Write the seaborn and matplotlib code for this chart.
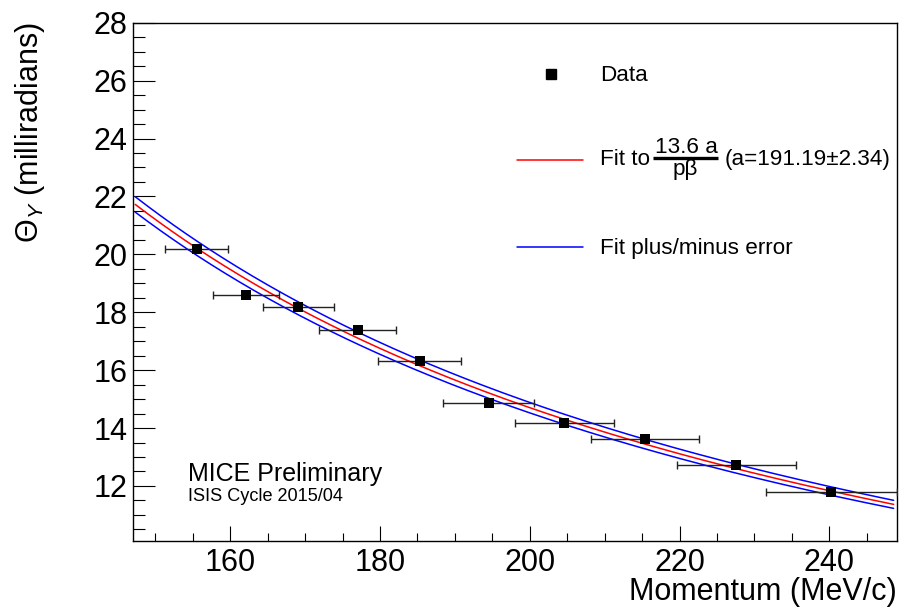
import numpy as np
import pandas as pd
import matplotlib
matplotlib.use("Agg")
import matplotlib.pyplot as plt
import seaborn as sns
from matplotlib.ticker import MultipleLocator

# Data
momentum = [155.5, 162.1, 169.1, 177.0, 185.3, 194.5, 204.6, 215.4, 227.6, 240.3]
momentum_err = [4.2, 4.4, 4.8, 5.15, 5.55, 6.05, 6.6, 7.2, 7.9, 8.7]
theta_y = [20.17, 18.59, 18.17, 17.37, 16.33, 14.88, 14.19, 13.62, 12.74, 11.79]

# Fit parameter (from the legend)
fit_a = 191.19
fit_a_err = 2.34
muon_mass = 105.66

# Style
sns.set_style("ticks")
plt.rcParams["font.family"] = ["Liberation Sans", "DejaVu Sans"]
plt.rcParams["mathtext.fontset"] = "custom"
plt.rcParams["mathtext.rm"] = "Liberation Sans"
plt.rcParams["mathtext.it"] = "Liberation Sans:italic"
plt.rcParams["mathtext.bf"] = "Liberation Sans:bold"
for key in ["text.color", "axes.labelcolor", "xtick.color", "ytick.color"]:
    plt.rcParams[key] = "black"


def highland(p, a):
    energy = np.sqrt(p ** 2 + muon_mass ** 2)
    p_beta = p ** 2 / energy
    return 13.6 * a / p_beta


p_grid = np.linspace(147.3, 248.6, 300)
fit_df = pd.DataFrame({
    "p": np.concatenate([p_grid] * 3),
    "theta": np.concatenate([
        highland(p_grid, fit_a),
        highland(p_grid, fit_a + fit_a_err),
        highland(p_grid, fit_a - fit_a_err),
    ]),
    "curve": ["fit"] * len(p_grid) + ["plus"] * len(p_grid) + ["minus"] * len(p_grid),
})

fig = plt.figure(figsize=(9.14, 6.09), dpi=100)
ax = fig.add_axes([0.1455, 0.1117, 0.8355, 0.851])

sns.lineplot(
    data=fit_df, x="p", y="theta", hue="curve",
    palette={"fit": "#ff0000", "plus": "#0000ff", "minus": "#0000ff"},
    linewidth=1.1, legend=False, ax=ax, sort=False
)

ax.errorbar(
    momentum, theta_y, xerr=momentum_err,
    fmt="none", ecolor="#222222", elinewidth=1.0, capsize=3, capthick=1.0, zorder=3
)
sns.scatterplot(
    x=momentum, y=theta_y, marker="s", s=52, color="black",
    edgecolor="black", linewidth=0, ax=ax, zorder=4
)

ax.set_xlim(147.0, 249.0)
ax.set_ylim(10.1, 28)

ax.xaxis.set_major_locator(MultipleLocator(20))
ax.xaxis.set_minor_locator(MultipleLocator(5))
ax.yaxis.set_major_locator(MultipleLocator(2))
ax.yaxis.set_minor_locator(MultipleLocator(0.5))

ax.tick_params(axis="both", which="both", direction="in", top=False, right=False,
               labelsize=22, width=0.8, color="black")
ax.tick_params(axis="y", which="major", length=15.8, pad=4)
ax.tick_params(axis="y", which="minor", length=8.4)
ax.tick_params(axis="x", which="major", length=10.8, pad=5)
ax.tick_params(axis="x", which="minor", length=5.5)

for spine in ax.spines.values():
    spine.set_visible(True)
    spine.set_color("black")
    spine.set_linewidth(1.0)

ax.set_xlabel("Momentum (MeV/c)", fontsize=22, loc="right")
ax.xaxis.set_label_coords(1.0, -0.069)
ax.set_ylabel("\u0398$_{Y}$ (milliradians)", fontsize=22, loc="top")
ax.yaxis.set_label_coords(-0.112, 1.0)

# Legend (drawn by hand, ROOT style)
leg_size = 16.2
ax.plot([0.547], [0.902], marker="s", color="black", markersize=7.2,
        transform=ax.transAxes, clip_on=False)
ax.text(0.6115, 0.8882, "Data", transform=ax.transAxes, fontsize=leg_size)

ax.plot([0.5024, 0.5896], [0.7351, 0.7351], color="#ff0000", lw=1.1, transform=ax.transAxes)
ax.text(0.6115, 0.7254, "Fit to", transform=ax.transAxes, fontsize=leg_size)
ax.text(0.7248, 0.7482, "13.6 a", transform=ax.transAxes, fontsize=leg_size, ha="center")
ax.plot([0.6813, 0.7656], [0.7394, 0.7394], color="black", lw=2.4,
        solid_capstyle="butt", transform=ax.transAxes)
ax.text(0.7228, 0.7061, "p\u03b2", transform=ax.transAxes, fontsize=leg_size, ha="center")
ax.text(0.7743, 0.7254, "(a=191.19\u00b12.34)", transform=ax.transAxes, fontsize=leg_size)

ax.plot([0.5024, 0.5896], [0.568, 0.568], color="#0000ff", lw=1.1, transform=ax.transAxes)
ax.text(0.6115, 0.5537, "Fit plus/minus error", transform=ax.transAxes, fontsize=leg_size)

ax.text(0.0724, 0.1158, "MICE Preliminary", transform=ax.transAxes, fontsize=18)
ax.text(0.0724, 0.0772, "ISIS Cycle 2015/04", transform=ax.transAxes, fontsize=13.1)

fig.savefig("out.png", dpi=100)
plt.close(fig)
